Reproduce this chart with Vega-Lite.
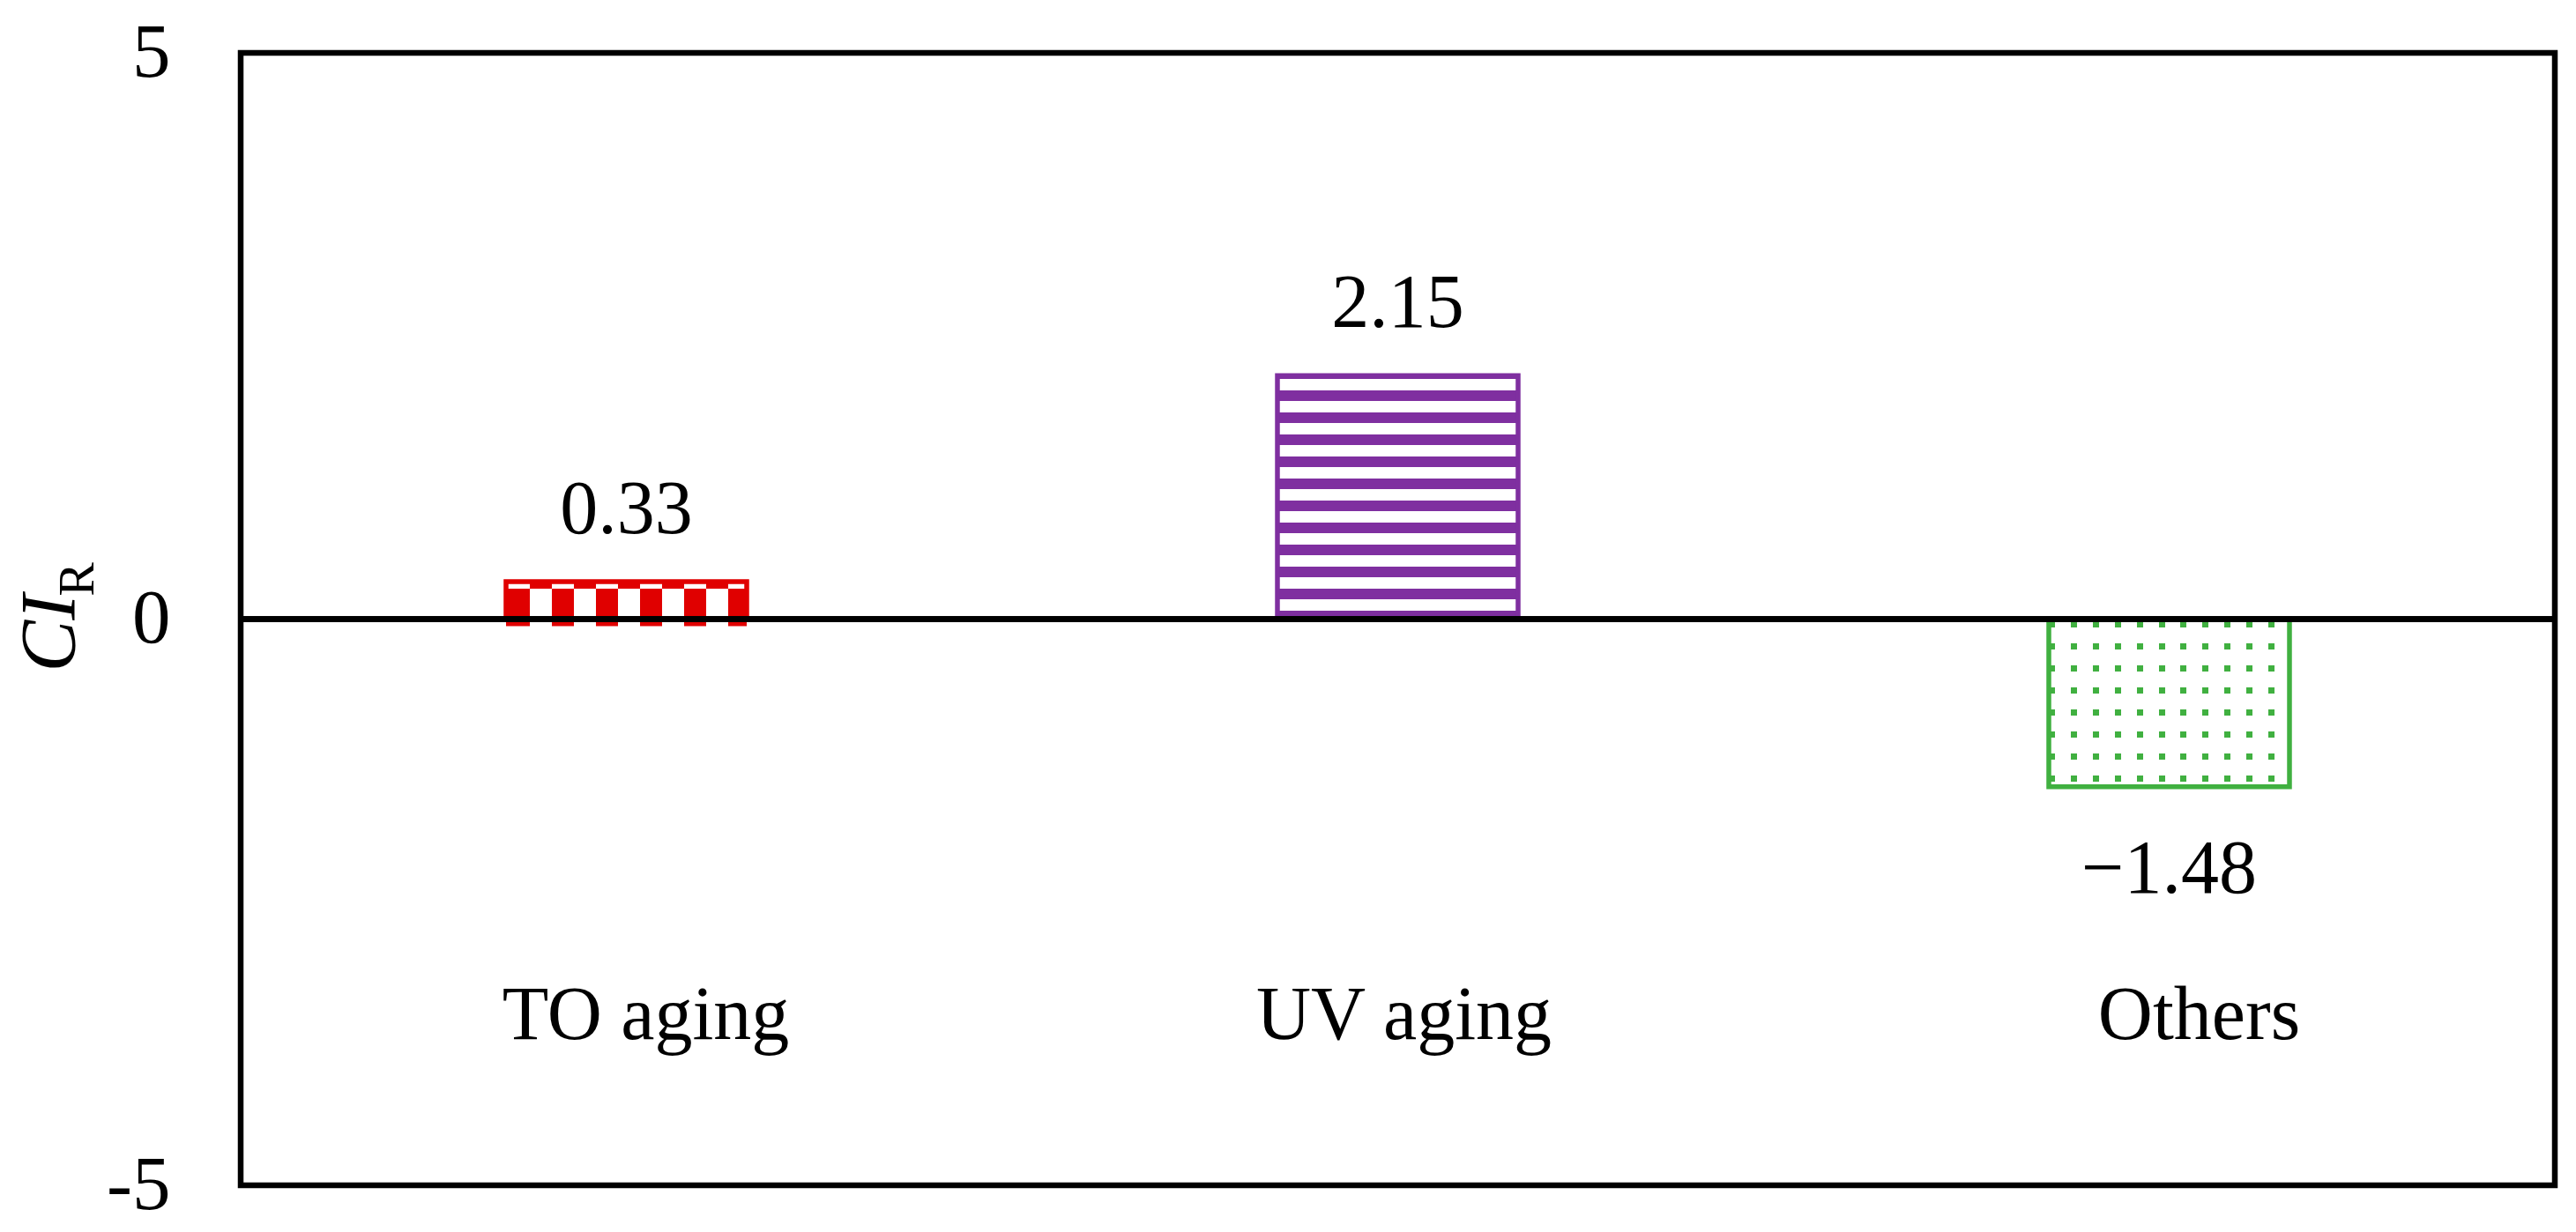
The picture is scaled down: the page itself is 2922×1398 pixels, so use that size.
{
  "$schema": "https://vega.github.io/schema/vega-lite/v6.json",
  "width": 2625,
  "height": 1285,
  "autosize": "none",
  "padding": {"left": 273, "top": 60, "right": 24, "bottom": 53},
  "background": "white",
  "config": {"view": {"stroke": "black", "strokeWidth": 6.5}, "font": "Liberation Serif"},
  "data": {"values": [
    {"category": "TO aging", "value": 0.33},
    {"category": "UV aging", "value": 2.15},
    {"category": "Others", "value": -1.48}
  ]},
  "resolve": {"axis": {"y": "independent"}},
  "layer": [
    {
      "transform": [{"filter": "datum.category === 'TO aging'"}],
      "mark": {"type": "bar", "strokeWidth": 0, "fill": {"gradient": "linear", "x1": 0, "y1": 0, "x2": 1, "y2": 0, "stops": [
        {"offset": 0, "color": "white"}, {"offset": 0.1005, "color": "white"},
        {"offset": 0.1005, "color": "#e00000"}, {"offset": 0.1921, "color": "#e00000"},
        {"offset": 0.1921, "color": "white"}, {"offset": 0.2837, "color": "white"},
        {"offset": 0.2837, "color": "#e00000"}, {"offset": 0.3753, "color": "#e00000"},
        {"offset": 0.3753, "color": "white"}, {"offset": 0.4668, "color": "white"},
        {"offset": 0.4668, "color": "#e00000"}, {"offset": 0.5584, "color": "#e00000"},
        {"offset": 0.5584, "color": "white"}, {"offset": 0.65, "color": "white"},
        {"offset": 0.65, "color": "#e00000"}, {"offset": 0.7416, "color": "#e00000"},
        {"offset": 0.7416, "color": "white"}, {"offset": 0.8332, "color": "white"},
        {"offset": 0.8332, "color": "#e00000"}, {"offset": 0.9247, "color": "#e00000"},
        {"offset": 0.9247, "color": "white"}, {"offset": 1, "color": "white"}]}},
      "encoding": {
        "x": {"field": "category", "type": "nominal", "sort": ["TO aging", "UV aging", "Others"],
          "scale": {"paddingInner": 0.688, "paddingOuter": 0.344},
          "axis": {"title": null, "domain": false, "ticks": false, "tickSize": 0, "labelAngle": 0,
            "labelPadding": -167, "labelBaseline": "alphabetic", "labelFont": "Liberation Serif",
            "labelFontSize": 86, "labelColor": "black", "labelLimit": 0,
            "labelOffset": {"condition": [{"test": "datum.value === 'TO aging'", "value": 22}, {"test": "datum.value === 'Others'", "value": 34}], "value": 7}}},
        "y": {"field": "value", "type": "quantitative", "scale": {"domain": [-5, 5], "nice": false, "zero": false}, "axis": null}
      }
    },
    {
      "transform": [{"filter": "datum.category === 'TO aging'"}],
      "mark": {"type": "bar", "strokeWidth": 0, "yOffset": 8, "y2Offset": -9.4, "fill": {"gradient": "linear", "x1": 0, "y1": 0, "x2": 1, "y2": 0, "stops": [
        {"offset": 0, "color": "#e00000"}, {"offset": 0.1005, "color": "#e00000"},
        {"offset": 0.1005, "color": "white"}, {"offset": 0.1921, "color": "white"},
        {"offset": 0.1921, "color": "#e00000"}, {"offset": 0.2837, "color": "#e00000"},
        {"offset": 0.2837, "color": "white"}, {"offset": 0.3753, "color": "white"},
        {"offset": 0.3753, "color": "#e00000"}, {"offset": 0.4668, "color": "#e00000"},
        {"offset": 0.4668, "color": "white"}, {"offset": 0.5584, "color": "white"},
        {"offset": 0.5584, "color": "#e00000"}, {"offset": 0.65, "color": "#e00000"},
        {"offset": 0.65, "color": "white"}, {"offset": 0.7416, "color": "white"},
        {"offset": 0.7416, "color": "#e00000"}, {"offset": 0.8332, "color": "#e00000"},
        {"offset": 0.8332, "color": "white"}, {"offset": 0.9247, "color": "white"},
        {"offset": 0.9247, "color": "#e00000"}, {"offset": 1, "color": "#e00000"}]}},
      "encoding": {
        "x": {"field": "category", "type": "nominal", "sort": ["TO aging", "UV aging", "Others"], "scale": {"paddingInner": 0.688, "paddingOuter": 0.344}},
        "y": {"field": "value", "type": "quantitative", "scale": {"domain": [-5, 5], "nice": false, "zero": false}, "axis": null}
      }
    },
    {
      "transform": [{"filter": "datum.category === 'UV aging'"}],
      "mark": {"type": "bar", "strokeWidth": 0, "fill": {"gradient": "linear", "x1": 0, "y1": 0, "x2": 0, "y2": 1, "stops": [
        {"offset": 0, "color": "#7f2fa0"}, {"offset": 0.013, "color": "#7f2fa0"},
        {"offset": 0.013, "color": "white"}, {"offset": 0.0612, "color": "white"},
        {"offset": 0.0612, "color": "#7f2fa0"}, {"offset": 0.1035, "color": "#7f2fa0"},
        {"offset": 0.1035, "color": "white"}, {"offset": 0.1517, "color": "white"},
        {"offset": 0.1517, "color": "#7f2fa0"}, {"offset": 0.1941, "color": "#7f2fa0"},
        {"offset": 0.1941, "color": "white"}, {"offset": 0.2422, "color": "white"},
        {"offset": 0.2422, "color": "#7f2fa0"}, {"offset": 0.2846, "color": "#7f2fa0"},
        {"offset": 0.2846, "color": "white"}, {"offset": 0.3327, "color": "white"},
        {"offset": 0.3327, "color": "#7f2fa0"}, {"offset": 0.3751, "color": "#7f2fa0"},
        {"offset": 0.3751, "color": "white"}, {"offset": 0.4232, "color": "white"},
        {"offset": 0.4232, "color": "#7f2fa0"}, {"offset": 0.4656, "color": "#7f2fa0"},
        {"offset": 0.4656, "color": "white"}, {"offset": 0.5138, "color": "white"},
        {"offset": 0.5138, "color": "#7f2fa0"}, {"offset": 0.5561, "color": "#7f2fa0"},
        {"offset": 0.5561, "color": "white"}, {"offset": 0.6043, "color": "white"},
        {"offset": 0.6043, "color": "#7f2fa0"}, {"offset": 0.6466, "color": "#7f2fa0"},
        {"offset": 0.6466, "color": "white"}, {"offset": 0.6948, "color": "white"},
        {"offset": 0.6948, "color": "#7f2fa0"}, {"offset": 0.7371, "color": "#7f2fa0"},
        {"offset": 0.7371, "color": "white"}, {"offset": 0.7853, "color": "white"},
        {"offset": 0.7853, "color": "#7f2fa0"}, {"offset": 0.8277, "color": "#7f2fa0"},
        {"offset": 0.8277, "color": "white"}, {"offset": 0.8758, "color": "white"},
        {"offset": 0.8758, "color": "#7f2fa0"}, {"offset": 0.9182, "color": "#7f2fa0"},
        {"offset": 0.9182, "color": "white"}, {"offset": 0.9663, "color": "white"},
        {"offset": 0.9663, "color": "#7f2fa0"}, {"offset": 1, "color": "#7f2fa0"}]}},
      "encoding": {
        "x": {"field": "category", "type": "nominal", "sort": ["TO aging", "UV aging", "Others"], "scale": {"paddingInner": 0.688, "paddingOuter": 0.344}},
        "y": {"field": "value", "type": "quantitative", "scale": {"domain": [-5, 5], "nice": false, "zero": false}, "axis": null}
      }
    },
    {
      "transform": [{"filter": "datum.category === 'Others'"}],
      "mark": {"type": "bar", "strokeWidth": 0, "fill": {"gradient": "linear", "x1": 0, "y1": 0, "x2": 1, "y2": 0, "stops": [
        {"offset": 0, "color": "#40b040"}, {"offset": 0.0247, "color": "#40b040"},
        {"offset": 0.0247, "color": "rgba(255,255,255,0)"}, {"offset": 0.0905, "color": "rgba(255,255,255,0)"},
        {"offset": 0.0905, "color": "#40b040"}, {"offset": 0.1161, "color": "#40b040"},
        {"offset": 0.1161, "color": "rgba(255,255,255,0)"}, {"offset": 0.1819, "color": "rgba(255,255,255,0)"},
        {"offset": 0.1819, "color": "#40b040"}, {"offset": 0.2075, "color": "#40b040"},
        {"offset": 0.2075, "color": "rgba(255,255,255,0)"}, {"offset": 0.2733, "color": "rgba(255,255,255,0)"},
        {"offset": 0.2733, "color": "#40b040"}, {"offset": 0.2989, "color": "#40b040"},
        {"offset": 0.2989, "color": "rgba(255,255,255,0)"}, {"offset": 0.3647, "color": "rgba(255,255,255,0)"},
        {"offset": 0.3647, "color": "#40b040"}, {"offset": 0.3903, "color": "#40b040"},
        {"offset": 0.3903, "color": "rgba(255,255,255,0)"}, {"offset": 0.4561, "color": "rgba(255,255,255,0)"},
        {"offset": 0.4561, "color": "#40b040"}, {"offset": 0.4817, "color": "#40b040"},
        {"offset": 0.4817, "color": "rgba(255,255,255,0)"}, {"offset": 0.5475, "color": "rgba(255,255,255,0)"},
        {"offset": 0.5475, "color": "#40b040"}, {"offset": 0.5731, "color": "#40b040"},
        {"offset": 0.5731, "color": "rgba(255,255,255,0)"}, {"offset": 0.6389, "color": "rgba(255,255,255,0)"},
        {"offset": 0.6389, "color": "#40b040"}, {"offset": 0.6645, "color": "#40b040"},
        {"offset": 0.6645, "color": "rgba(255,255,255,0)"}, {"offset": 0.7303, "color": "rgba(255,255,255,0)"},
        {"offset": 0.7303, "color": "#40b040"}, {"offset": 0.7559, "color": "#40b040"},
        {"offset": 0.7559, "color": "rgba(255,255,255,0)"}, {"offset": 0.8218, "color": "rgba(255,255,255,0)"},
        {"offset": 0.8218, "color": "#40b040"}, {"offset": 0.8474, "color": "#40b040"},
        {"offset": 0.8474, "color": "rgba(255,255,255,0)"}, {"offset": 0.9132, "color": "rgba(255,255,255,0)"},
        {"offset": 0.9132, "color": "#40b040"}, {"offset": 0.9388, "color": "#40b040"},
        {"offset": 0.9388, "color": "rgba(255,255,255,0)"}, {"offset": 1, "color": "rgba(255,255,255,0)"}]}},
      "encoding": {
        "x": {"field": "category", "type": "nominal", "sort": ["TO aging", "UV aging", "Others"], "scale": {"paddingInner": 0.688, "paddingOuter": 0.344}},
        "y": {"field": "value", "type": "quantitative", "scale": {"domain": [-5, 5], "nice": false, "zero": false}, "axis": null}
      }
    },
    {
      "transform": [{"filter": "datum.category === 'Others'"}],
      "mark": {"type": "bar", "strokeWidth": 0, "fill": {"gradient": "linear", "x1": 0, "y1": 0, "x2": 0, "y2": 1, "stops": [
        {"offset": 0, "color": "white"}, {"offset": 0.0113, "color": "white"},
        {"offset": 0.0113, "color": "rgba(255,255,255,0)"}, {"offset": 0.0481, "color": "rgba(255,255,255,0)"},
        {"offset": 0.0481, "color": "white"}, {"offset": 0.1428, "color": "white"},
        {"offset": 0.1428, "color": "rgba(255,255,255,0)"}, {"offset": 0.1796, "color": "rgba(255,255,255,0)"},
        {"offset": 0.1796, "color": "white"}, {"offset": 0.2743, "color": "white"},
        {"offset": 0.2743, "color": "rgba(255,255,255,0)"}, {"offset": 0.3112, "color": "rgba(255,255,255,0)"},
        {"offset": 0.3112, "color": "white"}, {"offset": 0.4058, "color": "white"},
        {"offset": 0.4058, "color": "rgba(255,255,255,0)"}, {"offset": 0.4427, "color": "rgba(255,255,255,0)"},
        {"offset": 0.4427, "color": "white"}, {"offset": 0.5373, "color": "white"},
        {"offset": 0.5373, "color": "rgba(255,255,255,0)"}, {"offset": 0.5742, "color": "rgba(255,255,255,0)"},
        {"offset": 0.5742, "color": "white"}, {"offset": 0.6689, "color": "white"},
        {"offset": 0.6689, "color": "rgba(255,255,255,0)"}, {"offset": 0.7057, "color": "rgba(255,255,255,0)"},
        {"offset": 0.7057, "color": "white"}, {"offset": 0.8004, "color": "white"},
        {"offset": 0.8004, "color": "rgba(255,255,255,0)"}, {"offset": 0.8372, "color": "rgba(255,255,255,0)"},
        {"offset": 0.8372, "color": "white"}, {"offset": 0.9319, "color": "white"},
        {"offset": 0.9319, "color": "rgba(255,255,255,0)"}, {"offset": 0.9687, "color": "rgba(255,255,255,0)"},
        {"offset": 0.9687, "color": "white"}, {"offset": 1, "color": "white"}]}},
      "encoding": {
        "x": {"field": "category", "type": "nominal", "sort": ["TO aging", "UV aging", "Others"], "scale": {"paddingInner": 0.688, "paddingOuter": 0.344}},
        "y": {"field": "value", "type": "quantitative", "scale": {"domain": [-5, 5], "nice": false, "zero": false}, "axis": null}
      }
    },
    {
      "mark": {"type": "bar", "fill": "white", "fillOpacity": 0, "strokeWidth": 5.5},
      "encoding": {
        "x": {"field": "category", "type": "nominal", "sort": ["TO aging", "UV aging", "Others"], "scale": {"paddingInner": 0.688, "paddingOuter": 0.344}},
        "y": {"field": "value", "type": "quantitative", "scale": {"domain": [-5, 5], "nice": false, "zero": false},
          "axis": {"orient": "left", "values": [-5, 0, 5], "domain": false, "ticks": false, "tickSize": 0, "grid": false,
            "labelPadding": 80, "labelFont": "Liberation Serif", "labelFontSize": 87, "labelColor": "black",
            "labelExpr": "replace(datum.label, '\u2212', '-')",
            "title": "CI", "titleFont": "Liberation Serif", "titleFontStyle": "italic", "titleFontWeight": "normal",
            "titleFontSize": 88, "titleColor": "black", "titleAngle": -90, "titleAlign": "center", "titleBaseline": "alphabetic",
            "titleX": -190, "titleY": 658}},
        "stroke": {"field": "category", "type": "nominal", "scale": {"domain": ["TO aging", "UV aging", "Others"], "range": ["#e00000", "#7f2fa0", "#40b040"]}, "legend": null}
      }
    },
    {
      "mark": {"type": "rule", "color": "black", "strokeWidth": 6.5},
      "encoding": {
        "y": {"datum": 0, "type": "quantitative", "scale": {"domain": [-5, 5], "nice": false, "zero": false},
          "axis": {"orient": "left", "labels": false, "domain": false, "ticks": false, "grid": false,
            "title": "R", "titleFont": "Liberation Serif", "titleFontStyle": "normal", "titleFontWeight": "normal",
            "titleFontSize": 58, "titleColor": "black", "titleAngle": -90, "titleAlign": "center", "titleBaseline": "alphabetic",
            "titleX": -168, "titleY": 597}}
      }
    },
    {
      "transform": [{"filter": "datum.value > 0"}],
      "mark": {"type": "text", "dy": -55, "baseline": "alphabetic", "align": "center", "fontSize": 86, "font": "Liberation Serif", "color": "black"},
      "encoding": {
        "x": {"field": "category", "type": "nominal", "sort": ["TO aging", "UV aging", "Others"], "scale": {"paddingInner": 0.688, "paddingOuter": 0.344}},
        "y": {"field": "value", "type": "quantitative", "scale": {"domain": [-5, 5], "nice": false, "zero": false}, "axis": null},
        "text": {"field": "value", "type": "quantitative", "format": ".2f"}
      }
    },
    {
      "transform": [{"filter": "datum.value < 0"}],
      "mark": {"type": "text", "dy": 120, "baseline": "alphabetic", "align": "center", "fontSize": 86, "font": "Liberation Serif", "color": "black"},
      "encoding": {
        "x": {"field": "category", "type": "nominal", "sort": ["TO aging", "UV aging", "Others"], "scale": {"paddingInner": 0.688, "paddingOuter": 0.344}},
        "y": {"field": "value", "type": "quantitative", "scale": {"domain": [-5, 5], "nice": false, "zero": false}, "axis": null},
        "text": {"field": "value", "type": "quantitative", "format": ".2f"}
      }
    }
  ]
}
